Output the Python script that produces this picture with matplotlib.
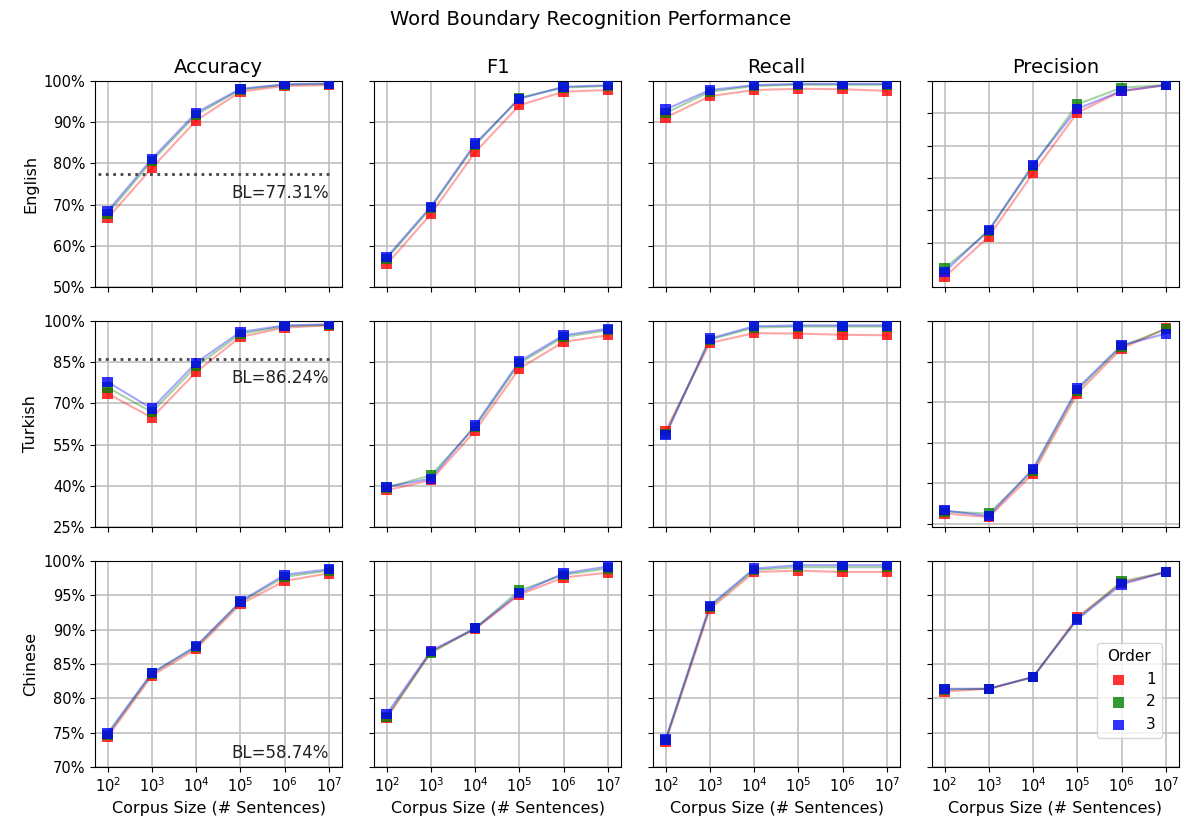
import numpy as np
import matplotlib
matplotlib.use("Agg")
import matplotlib.pyplot as plt
from matplotlib.ticker import FixedLocator, FuncFormatter, NullLocator

sizes = [1e2, 1e3, 1e4, 1e5, 1e6, 1e7]
orders = ["1", "2", "3"]
languages = ["English", "Turkish", "Chinese"]
metrics = ["Accuracy", "F1", "Recall", "Precision"]

# values in percent, one row per n-gram order (1, 2, 3)
en_acc = [[66.7, 78.9, 90.4, 97.4, 98.8, 99.0],
          [67.8, 80.6, 91.8, 97.9, 99.1, 99.3],
          [68.4, 81.1, 92.3, 98.1, 99.2, 99.4]]
en_f1 = [[55.5, 67.7, 82.7, 94.1, 97.4, 97.8],
         [56.8, 69.2, 84.4, 95.9, 98.4, 98.8],
         [57.2, 69.5, 84.8, 95.7, 98.6, 98.95]]
en_rec = [[91.1, 96.3, 97.8, 98.1, 98.0, 97.6],
          [92.2, 97.4, 98.8, 99.1, 99.1, 99.1],
          [93.1, 97.8, 99.0, 99.3, 99.3, 99.3]]
en_prec = [[39.4, 51.9, 71.5, 90.2, 96.9, 98.7],
           [42.0, 53.6, 73.8, 92.8, 97.9, 98.8],
           [41.0, 53.9, 74.1, 91.4, 96.9, 98.7]]

tr_acc = [[73.6, 64.8, 81.4, 94.2, 97.6, 98.4],
          [75.8, 66.8, 83.5, 95.3, 98.1, 98.6],
          [77.8, 68.1, 84.8, 96.0, 98.4, 98.8]]
tr_f1 = [[38.4, 42.0, 60.0, 82.7, 92.4, 94.8],
         [39.4, 43.8, 61.4, 84.6, 94.2, 96.6],
         [39.6, 42.6, 62.0, 85.3, 94.8, 97.2]]
tr_rec = [[60.0, 92.0, 95.6, 95.4, 95.0, 94.8],
          [58.8, 93.2, 97.6, 98.0, 98.0, 98.0],
          [58.4, 93.6, 98.1, 98.4, 98.4, 98.4]]
tr_prec = [[28.7, 27.4, 43.5, 73.1, 89.8, 97.2],
           [29.4, 28.7, 44.6, 74.3, 90.6, 97.0],
           [29.9, 27.7, 45.3, 75.0, 91.0, 95.3]]

zh_acc = [[74.4, 83.3, 87.2, 93.7, 97.1, 98.2],
          [74.7, 83.6, 87.5, 94.0, 97.7, 98.6],
          [74.9, 83.7, 87.6, 94.1, 98.0, 98.8]]
zh_f1 = [[77.1, 86.8, 90.1, 95.1, 97.6, 98.3],
         [77.3, 86.6, 90.2, 95.7, 98.0, 98.9],
         [77.7, 86.9, 90.2, 95.3, 98.2, 99.2]]
zh_rec = [[73.7, 93.0, 98.4, 98.6, 98.4, 98.4],
          [73.9, 93.3, 98.7, 99.1, 99.1, 99.1],
          [74.0, 93.5, 98.9, 99.4, 99.4, 99.4]]
zh_prec = [[81.0, 81.4, 83.1, 91.8, 96.8, 98.4],
           [81.3, 81.4, 83.1, 91.6, 97.0, 98.4],
           [81.4, 81.4, 83.1, 91.5, 96.6, 98.4]]

baselines = [77.31, 86.24, 58.74]
row_ticks = [[50, 60, 70, 80, 90, 100],
             [25, 40, 55, 70, 85, 100],
             [70, 75, 80, 85, 90, 95, 100]]
# lower y limit per panel (precision column has its own)
ylow = [[50, 50, 50, 36.3],
        [25, 25, 25, 23.7],
        [70, 70, 70, 70]]

data = [[en_acc, en_f1, en_rec, en_prec],
        [tr_acc, tr_f1, tr_rec, tr_prec],
        [zh_acc, zh_f1, zh_rec, zh_prec]]
colors = ["red", "green", "blue"]

fig, axes = plt.subplots(3, 4, figsize=(11.82, 8.23), dpi=100, sharex=True)
fig.subplots_adjust(left=0.0804, right=0.9975, top=0.9016, bottom=0.068,
                    wspace=0.129, hspace=0.165)
fig.suptitle("Word Boundary Recognition Performance", fontsize=14, y=0.988)

pct = FuncFormatter(lambda v, p: "%d%%" % v)

for r in range(3):
    for c in range(4):
        ax = axes[r, c]
        for k in range(3):
            ax.plot(sizes, data[r][c][k], color=colors[k], alpha=0.35, lw=1.5,
                    zorder=2)
            ax.scatter(sizes, data[r][c][k], marker="s", color=colors[k],
                       alpha=0.8, s=55, zorder=3, label=orders[k],
                       edgecolors="none")
        ax.set_xscale("log")
        ax.set_xlim(10 ** 1.715, 10 ** 7.30)
        ax.xaxis.set_minor_locator(NullLocator())
        ax.set_xticks(sizes)
        ax.set_ylim(ylow[r][c], 100)
        ax.yaxis.set_major_locator(FixedLocator(row_ticks[r]))
        ax.yaxis.set_major_formatter(pct)
        ax.grid(True, color="#c0c0c0", lw=1.2)
        ax.set_axisbelow(True)
        ax.tick_params(labelsize=10.5)
        if c != 0:
            ax.tick_params(labelleft=False)
        if r == 0:
            ax.set_title(metrics[c], fontsize=14)
        if r == 2:
            ax.set_xlabel("Corpus Size (# Sentences)", fontsize=11.5)

    ax = axes[r, 0]
    ax.set_ylabel(languages[r], fontsize=11.5)
    bl = baselines[r]
    label = "BL=%.2f%%" % bl
    if bl > ylow[r][0]:
        ax.axhline(bl, xmin=0.012, xmax=0.946, color="#444444", ls=":", lw=2)
        ax.annotate(label, (sizes[-1], bl), xytext=(0, -7),
                    textcoords="offset points", ha="right", va="top",
                    fontsize=12, color="#222222")
    else:
        ax.text(sizes[-1], 0.025, label, transform=ax.get_xaxis_transform(),
                ha="right", va="bottom", fontsize=12, color="#222222")

axes[2, 3].legend(title="Order", loc="lower right", bbox_to_anchor=(0.93, 0.14),
                  borderaxespad=0, fontsize=11, title_fontsize=11)

fig.savefig("out.png", dpi=100)
